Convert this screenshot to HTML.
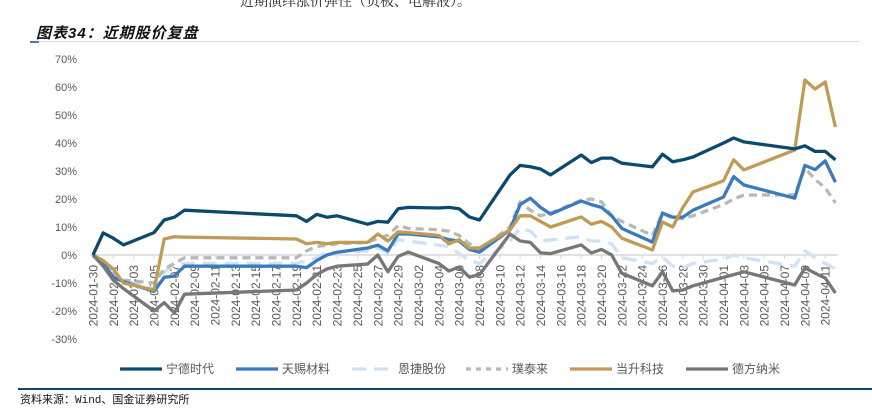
<!DOCTYPE html>
<html><head><meta charset="utf-8"><style>
body{margin:0;background:#fff;width:872px;height:409px;overflow:hidden;position:relative;font-family:"Liberation Sans","Noto Sans CJK SC",sans-serif}
</style></head><body>
<div style="position:absolute;left:240px;top:-9px;font-size:14px;color:#222;font-family:'Liberation Serif','Noto Serif CJK SC',serif;">近期演绎涨价弹性（负极、电解液）。</div>
<div style="position:absolute;left:36px;top:22px;font-size:15px;font-weight:bold;font-style:italic;color:#111;letter-spacing:1px;">图表34：近期股价复盘</div>
<div style="position:absolute;left:30px;top:41px;width:830px;height:1px;background:#ddd"></div>
<div style="position:absolute;left:30px;top:41px;width:9px;height:2px;background:#4a7fa8"></div>
<svg id="chart" width="872" height="409" style="position:absolute;left:0;top:0"></svg>
<div style="position:absolute;left:18px;top:388px;width:854px;height:2px;background:#0b4a6e"></div>
<div style="position:absolute;left:20px;top:391px;font-size:11px;color:#111;font-family:'Liberation Mono','Noto Sans CJK SC',monospace;">资料来源：Wind、国金证券研究所</div>
<script>
const dates=["2024-01-30","2024-01-31","2024-02-01","2024-02-02","2024-02-05","2024-02-06","2024-02-07","2024-02-08","2024-02-19","2024-02-20","2024-02-21","2024-02-22","2024-02-23","2024-02-26","2024-02-27","2024-02-28","2024-02-29","2024-03-01","2024-03-04","2024-03-05","2024-03-06","2024-03-07","2024-03-08","2024-03-11","2024-03-12","2024-03-13","2024-03-14","2024-03-15","2024-03-18","2024-03-19","2024-03-20","2024-03-21","2024-03-22","2024-03-25","2024-03-26","2024-03-27","2024-03-28","2024-03-29","2024-04-01","2024-04-02","2024-04-03","2024-04-08","2024-04-09","2024-04-10","2024-04-11","2024-04-12"];
const catl=[0,7.9,6,3.6,8,12.5,13.5,16,14,12,14.5,13.5,14,11,12,11.7,16.5,17,16.8,17,16.5,13.6,12.5,28.6,32,31.5,30.7,28.6,35.7,33,34.6,34.6,32.8,31.5,36,33.3,34,35,40,41.8,40.4,37.9,39,37,37,34];
const tinci=[0,-3,-8,-9.5,-13,-8,-7.5,-4,-4,-4.5,-2,0,1,2.5,3.5,1.5,7.5,7.5,6.5,5.5,5,2,1,9,18,20.3,17,14.6,19.3,18,17,14,9.5,4.6,15,13.5,13.5,16,20.7,28,25,20.3,32,30.5,33.6,26];
const semcorp=[0,-3,-7,-9,-12,-6,-3.5,-3,-3,-2,-1,1,1,1.5,2.5,0.7,5.4,5,3.5,3,0.5,-2,-3,5,9.6,8.5,5,5.4,6.5,5,5,4,-1,-3,-0.7,-4,-4.5,-3,-1.5,0,-1,-4,1.5,-1,-3,-5];
const putailai=[0,-3,-7,-9,-10,-5,-3,-1,-1,1.5,3,3.5,4,4.5,6,7,10.5,9.5,9,8.5,7,4,2,10,19,16,14,15,19.5,20,19,14,12,7,15,13,13,14,18,20,21.4,21.5,31,27,24,18.6];
const easpring=[0,-2,-5,-10,-12.5,5.7,6.5,6.4,5.7,4,4.5,4,4.5,4.5,7.5,5,8.3,8,7,4,5.5,2.5,2.5,9,14,14,12,10,13.6,11,12,10,6,1.8,11.8,10,17,22.5,26.5,34,30.4,37.5,62.5,59.3,61.8,45.7];
const dynanonic=[0,-4,-9,-12,-20,-17,-20.7,-14,-12.5,-10,-7,-5,-4,-3.2,0,-6,-0.5,1,-3,-5.7,-4.3,-7.9,-7,7.5,5,4.5,0.8,0.5,3.6,0.7,2,0,-6.5,-11,-6,-12.8,-12.5,-11,-8,-7,-6,-10.7,-4.6,-6.5,-8.2,-13.6];
const yTicks=[70,60,50,40,30,20,10,0,-10,-20,-30];
const seriesNames=["宁德时代","天赐材料","恩捷股份","璞泰来","当升科技","德方纳米"];

const NS="http://www.w3.org/2000/svg";
const svg=document.getElementById("chart");
const t0=Date.parse("2024-01-30"),DAY=86400000;
const xScale=d=>93+((Date.parse(d)-t0)/DAY)*10.17;
const yScale=v=>255-v*2.8;
function mk(tag,attrs){const e=document.createElementNS(NS,tag);for(const k in attrs)e.setAttribute(k,attrs[k]);svg.appendChild(e);return e;}

yTicks.forEach(v=>{
  const t=mk("text",{x:77,y:yScale(v)+4,"text-anchor":"end","font-size":"11",fill:"#595959"});
  t.textContent=v+"%";
  
  
});
const ax=mk("line",{x1:90,x2:838,y1:yScale(0),y2:yScale(0),stroke:"#d9d9d9","stroke-width":1.5});


for(let d=0;d<=72;d+=2){
  const dt=new Date(t0+d*DAY).toISOString().slice(0,10);
  const x=xScale(dt);
  const tk=mk("line",{x1:x,x2:x,y1:yScale(0),y2:yScale(0)+4,stroke:"#d9d9d9"});
  
  
  const t=mk("text",{x:0,y:0,"text-anchor":"end","font-size":"12",fill:"#595959",transform:`translate(${x+4.5},${yScale(0)+10}) rotate(-90)`});
  t.textContent=dt;
  
  
}
const styles=[
 {data:catl,color:"#0b4a6e",dash:null,name:"catl-line"},
 {data:tinci,color:"#3a7bbf",dash:null,name:"tinci-line"},
 {data:semcorp,color:"#cfe2f3",dash:"14,8",name:"semcorp-line"},
 {data:putailai,color:"#b8b8b8",dash:"8,5",name:"putailai-line"},
 {data:easpring,color:"#c09b55",dash:null,name:"easpring-line"},
 {data:dynanonic,color:"#777777",dash:null,name:"dynanonic-line"}];
const order=[2,3,1,4,5,0];
order.forEach(i=>{
  const s=styles[i];
  const pts=s.data.map((v,j)=>xScale(dates[j]).toFixed(1)+","+yScale(v).toFixed(1)).join(" ");
  const a={points:pts,fill:"none",stroke:s.color,"stroke-width":3.3,"stroke-linejoin":"round"};
  if(s.dash)a["stroke-dasharray"]=s.dash;
  const p=mk("polyline",a);
  
  
});
const legX=[120,236,352,466,570,686];
styles.forEach((s,i)=>{
  const a={x1:legX[i],x2:legX[i]+42,y1:369,y2:369,stroke:s.color,"stroke-width":3.3};
  if(s.dash)a["stroke-dasharray"]=i==3?"5,5":"14,8";
  const l=mk("line",a);
  
  
  const t=mk("text",{x:legX[i]+46,y:373,"font-size":"12",fill:"#595959"});
  t.textContent=seriesNames[i];
  
  
});
</script>
</body></html>
